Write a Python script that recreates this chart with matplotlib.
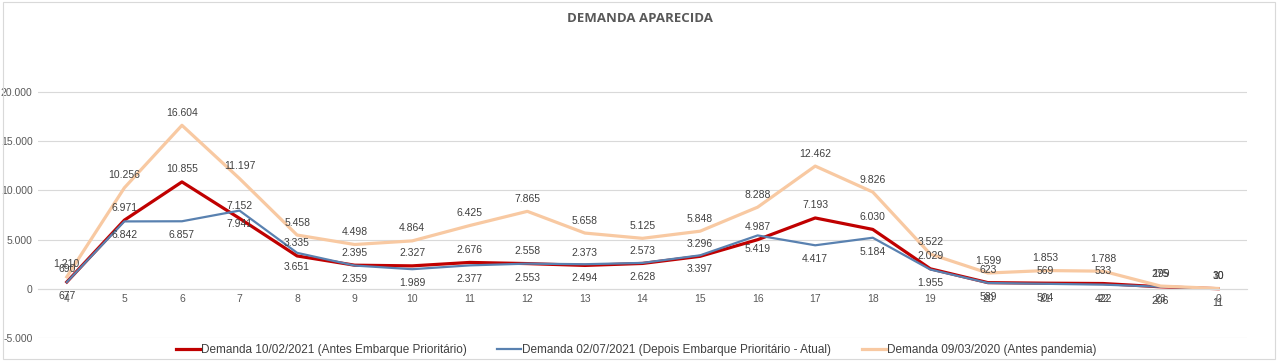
import matplotlib.pyplot as plt
from matplotlib.patches import Rectangle
from matplotlib.ticker import FuncFormatter

plt.rcParams['font.family'] = ['Liberation Sans Narrow', 'Liberation Sans', 'DejaVu Sans']

# Data
horas = ['4', '5', '6', '7', '8', '9', '10', '11', '12', '13', '14', '15', '16',
         '17', '18', '19', '20', '21', '22', '23', '0']
demanda_antes = [690, 6971, 10855, 7152, 3335, 2395, 2327, 2676, 2558, 2373, 2573,
                 3296, 4987, 7193, 6030, 2029, 623, 569, 533, 199, 10]
demanda_atual = [677, 6842, 6857, 7941, 3651, 2359, 1989, 2377, 2553, 2494, 2628,
                 3397, 5419, 4417, 5184, 1955, 589, 504, 422, 206, 11]
demanda_pandemia = [1210, 10256, 16604, 11197, 5458, 4498, 4864, 6425, 7865, 5658, 5125,
                    5848, 8288, 12462, 9826, 3522, 1599, 1853, 1788, 275, 30]

nomes = ['Demanda 10/02/2021 (Antes Embarque Prioritário)',
         'Demanda 02/07/2021 (Depois Embarque Prioritário - Atual)',
         'Demanda 09/03/2020 (Antes pandemia)']


def fmt_br(v, pos=None):
    return f'{v:,.0f}'.replace(',', '.')


fig = plt.figure(figsize=(12.8, 3.61), dpi=100)
ax = fig.add_axes([0.0297, 0.0637, 0.9445, 0.75])
x = list(range(len(horas)))

series = [
    (demanda_antes, '#C00000', 2.3, 9),
    (demanda_atual, '#5981B0', 1.6, -10),
    (demanda_pandemia, '#F8C9A2', 2.3, 9),
]
for (vals, cor, lw, off), nome in zip(series, nomes):
    ax.plot(x, vals, color=cor, lw=lw, label=nome, solid_joinstyle='round')
    for xi, v in zip(x, vals):
        ax.annotate(fmt_br(v), (xi, v), xytext=(0, off), textcoords='offset points',
                    ha='center', va='center', fontsize=7.5, color='#404040')

ax.set_xlim(-0.5, len(horas) - 0.5)
ax.set_ylim(-5000, 22500)
ax.set_yticks([-5000, 0, 5000, 10000, 15000, 20000])
ax.yaxis.set_major_formatter(FuncFormatter(fmt_br))
ax.set_xticks(x)
ax.set_xticklabels(horas)
ax.spines['bottom'].set_position(('data', 0))
ax.spines['bottom'].set_color('#d9d9d9')
for s in ['top', 'right', 'left']:
    ax.spines[s].set_visible(False)
ax.tick_params(axis='both', length=0, labelsize=7.5, colors='#595959')
ax.tick_params(axis='y', pad=4)
ax.grid(axis='y', color='#d9d9d9', lw=0.8)
ax.set_axisbelow(True)

fig.text(0.5, 0.95, 'DEMANDA APARECIDA', ha='center', va='center',
         fontsize=9.5, fontweight='bold', color='#595959', family=['Open Sans', 'DejaVu Sans'])

fig.legend(loc='center', bbox_to_anchor=(0.497, 0.03), ncol=3, frameon=False,
           fontsize=8.5, handlelength=2.0, handletextpad=0.1, columnspacing=2.6,
           labelcolor='#404040')

fig.patches.append(Rectangle((0.002, 0.005), 0.994, 0.99, transform=fig.transFigure,
                             fill=False, edgecolor='#d9d9d9', lw=0.8))

fig.savefig('out.png', dpi=100, facecolor='white')
